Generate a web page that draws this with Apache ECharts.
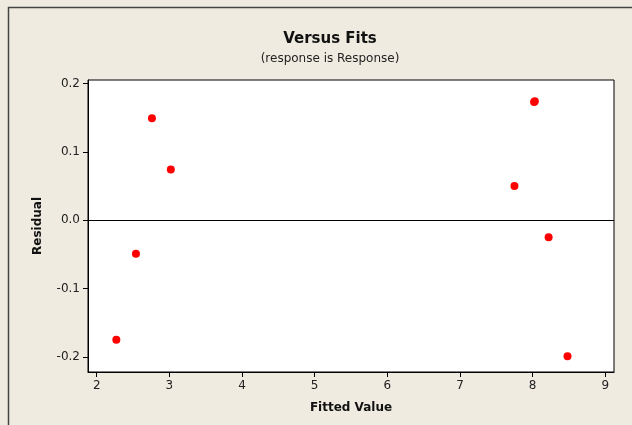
<!DOCTYPE html>
<html>
<head>
<meta charset="utf-8">
<script src="https://cdn.jsdelivr.net/npm/echarts@6/dist/echarts.min.js"></script>
<style>
  html, body { margin: 0; padding: 0; background: #efebe1; }
  #chart { width: 632px; height: 425px; }
</style>
</head>
<body>
<div id="chart"></div>
<script>
// fitted values and residuals
var fitted = [2.27, 2.54, 2.76, 3.02, 7.75, 8.02, 8.03, 8.22, 8.48];
var residual = [-0.175, -0.049, 0.149, 0.074, 0.050, 0.173, 0.174, -0.025, -0.199];
var xTicks = [2, 3, 4, 5, 6, 7, 8, 9];
var yTicks = [-0.2, -0.1, 0.0, 0.1, 0.2];

var points = [];
for (var i = 0; i < fitted.length; i++) {
  points.push([fitted[i], residual[i]]);
}

var font = 'Tahoma, "DejaVu Sans", sans-serif';
var chart = echarts.init(document.getElementById('chart'));
chart.setOption({
  backgroundColor: '#efebe1',
  animation: false,
  title: {
    text: 'Versus Fits',
    subtext: '(response is Response)',
    left: 325,
    textAlign: 'center',
    top: 27,
    itemGap: 6,
    textStyle: { fontFamily: font, fontSize: 15, fontWeight: 'bold', color: '#111' },
    subtextStyle: { fontFamily: font, fontSize: 12, color: '#222' }
  },
  graphic: [{
    type: 'rect',
    shape: { x: 8.5, y: 7.5, width: 640, height: 430 },
    style: { fill: null, stroke: '#444', lineWidth: 1.5 },
    silent: true
  }],
  grid: {
    left: 88, top: 80, width: 526, height: 292,
    show: true, backgroundColor: '#fff', borderColor: '#000', borderWidth: 1
  },
  xAxis: {
    type: 'value',
    min: 1.88, max: 9.12,
    name: 'Fitted Value',
    nameLocation: 'middle',
    nameGap: 30,
    nameTextStyle: { fontFamily: font, fontSize: 12, fontWeight: 'bold', color: '#111' },
    splitLine: { show: false },
    axisLine: { show: true, onZero: false, lineStyle: { color: '#000' } },
    axisTick: { show: true, length: 5, customValues: xTicks, lineStyle: { color: '#000' } },
    axisLabel: { customValues: xTicks, margin: 8, fontFamily: font, fontSize: 12, color: '#222' }
  },
  yAxis: {
    type: 'value',
    min: -0.222, max: 0.205,
    name: 'Residual',
    nameLocation: 'middle',
    nameGap: 44,
    nameTextStyle: { fontFamily: font, fontSize: 12, fontWeight: 'bold', color: '#111' },
    splitLine: { show: false },
    axisLine: { show: true, onZero: false, lineStyle: { color: '#000' } },
    axisTick: { show: true, length: 5, customValues: yTicks, lineStyle: { color: '#000' } },
    axisLabel: {
      customValues: yTicks, margin: 8, fontFamily: font, fontSize: 12, color: '#222',
      formatter: function (v) { return v.toFixed(1); }
    }
  },
  series: [{
    type: 'scatter',
    data: points,
    symbol: 'circle',
    symbolSize: 8,
    itemStyle: { color: '#ff0000', opacity: 1 },
    markLine: {
      silent: true,
      symbol: 'none',
      label: { show: false },
      lineStyle: { color: '#000', width: 1, type: 'solid' },
      data: [{ yAxis: 0 }]
    }
  }]
});
</script>
</body>
</html>
